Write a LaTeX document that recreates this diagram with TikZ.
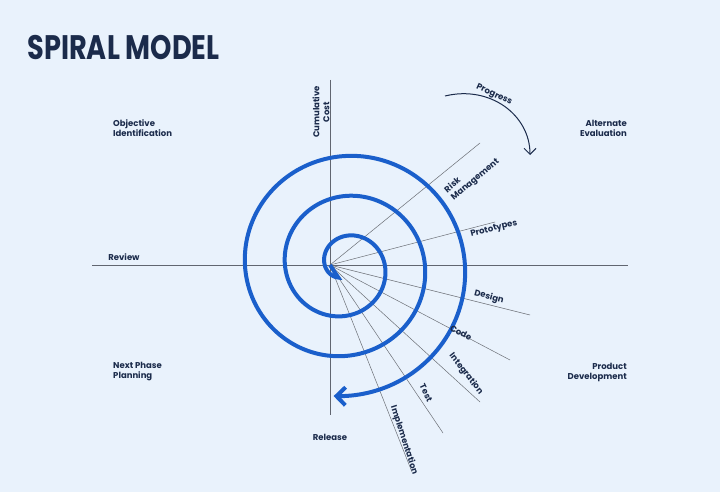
\documentclass[tikz,border=0pt]{standalone}
\usepackage{fontspec}
\setmainfont{Poppins}
\usetikzlibrary{arrows.meta}
\definecolor{bg}{HTML}{E9F2FC}
\definecolor{navy}{HTML}{1B2B4B}
\definecolor{sp}{HTML}{1A5FCB}
\begin{document}
\begin{tikzpicture}[x=1pt,y=-1pt,
  lbl/.style={font=\bfseries\fontsize{8.5}{10}\selectfont,text=navy,align=left,inner sep=1pt},
  ray/.style={draw=gray!80!navy,line width=0.5pt},
  axis/.style={draw=gray!70!navy,line width=0.8pt}]
\fill[bg] (0,0) rectangle (720,492);
\useasboundingbox (0,0) rectangle (720,492);
\node[anchor=west,text=navy,font=\bfseries\fontsize{34}{36}\selectfont] (title) at (24,48) {\scalebox{0.8}[1]{SPIRAL MODEL}};
\coordinate (c) at (330,265);
\coordinate (axl) at (92,265);
\coordinate (axr) at (628,265);
\coordinate (axt) at (330,80);
\coordinate (axb) at (330,415);
\draw[axis] (axl) -- (axr);
\draw[axis] (axt) -- (axb);
\coordinate (r1) at (480,143);
\coordinate (r2) at (495,222);
\coordinate (r3) at (530,315);
\coordinate (r4) at (510,360);
\coordinate (r5) at (480,402);
\coordinate (r6) at (443,433);
\coordinate (r7) at (412,472);
\draw[ray] (c) -- (r1);
\draw[ray] (c) -- (r2);
\draw[ray] (c) -- (r3);
\draw[ray] (c) -- (r4);
\draw[ray] (c) -- (r5);
\draw[ray] (c) -- (r6);
\draw[ray] (c) -- (r7);
\draw[sp,line width=4pt,-{Straight Barb[length=9pt,width=18pt]}]
  (c) -- plot[domain=-150:905,samples=260,smooth,variable=\t]
  ({345+(30+\t/9)*sin(\t)},{266-(30+\t/9)*cos(\t)});
\coordinate (pa) at (445,96);
\coordinate (pb) at (530,155);
\draw[navy,line width=1pt,-{Straight Barb[length=6pt,width=12pt]}] (pa) .. controls (490,85) and (530,115) .. (pb);
\node[lbl,rotate=-25] (prog) at (494,95) {Progress};
\node[lbl,rotate=90,align=center] (cc) at (321,112) {Cumulative\\Cost};
\node[lbl,rotate=40,align=left] (risk) at (472,176) {Risk\\Management};
\node[lbl,rotate=14] (proto) at (494,229) {Prototypes};
\node[lbl,rotate=-15] (des) at (489,297) {Design};
\node[lbl,rotate=-27] (code) at (461,333) {Code};
\node[lbl,rotate=-52] (int) at (466,374) {Integration};
\node[lbl,rotate=-65] (test) at (426,393) {Test};
\node[lbl,rotate=-72] (impl) at (404,440) {Implementation};
\node[lbl] (rev) at (124,257) {Review};
\node[lbl] (rel) at (330,437) {Release};
\node[lbl,anchor=west] (oi) at (112,128) {Objective\\Identification};
\node[lbl,anchor=east,align=right] (ae) at (628,128) {Alternate\\Evaluation};
\node[lbl,anchor=west] (np) at (112,372) {Next Phase\\Planning};
\node[lbl,anchor=east,align=right] (pd) at (628,372) {Product\\Development};
\end{tikzpicture}
\end{document}
